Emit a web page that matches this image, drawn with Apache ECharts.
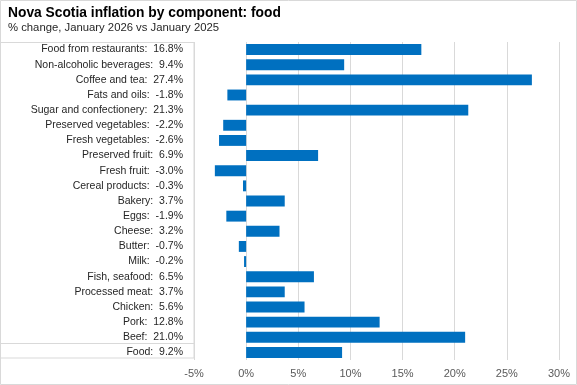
<!DOCTYPE html>
<html><head><meta charset="utf-8">
<script src="https://cdn.jsdelivr.net/npm/echarts@6/dist/echarts.min.js"></script>
<style>html,body{margin:0;padding:0;background:#fff}#c{width:577px;height:385px}</style>
</head><body><div id="c"></div>
<script>
const categories = ["Food from restaurants","Non-alcoholic beverages","Coffee and tea","Fats and oils","Sugar and confectionery","Preserved vegetables","Fresh vegetables","Preserved fruit","Fresh fruit","Cereal products","Bakery","Eggs","Cheese","Butter","Milk","Fish, seafood","Processed meat","Chicken","Pork","Beef","Food"];
const values = [16.8,9.4,27.4,-1.8,21.3,-2.2,-2.6,6.9,-3.0,-0.3,3.7,-1.9,3.2,-0.7,-0.2,6.5,3.7,5.6,12.8,21.0,9.2];
const xTicks = {min:-5, max:30, interval:5};
const title = "Nova Scotia inflation by component: food";
const subtitle = "% change, January 2026 vs January 2025";
</script>
<script>
const chart = echarts.init(document.getElementById('c'), null, {renderer:'canvas'});
const labels = categories.map((c,i)=> c + ':  ' + values[i].toFixed(1) + '%');
const F = 'Liberation Sans, Arial, sans-serif';
chart.setOption({
  animation:false,
  textStyle:{fontFamily:F},
  title:{text:title, subtext:subtitle, left:3, top:1, itemGap:2,
    textStyle:{fontSize:13.8, fontWeight:'bold', color:'#000', fontFamily:F},
    subtextStyle:{fontSize:11.3, color:'#262626', fontFamily:F}},
  grid:{left:194, right:18, top:42, bottom:25},
  xAxis:{type:'value', min:xTicks.min, max:xTicks.max, interval:xTicks.interval,
    axisLabel:{formatter:'{value}%', color:'#595959', fontSize:11, margin:8},
    axisLine:{show:false}, axisTick:{show:false},
    splitLine:{lineStyle:{color:'#d9d9d9', width:1}}},
  yAxis:{type:'category', data:labels, inverse:true,
    axisLine:{show:false}, axisTick:{show:false},
    axisLabel:{color:'#262626', fontSize:10.5, margin:11}},
  series:[{type:'bar', data:values, barWidth:'72%', itemStyle:{color:'#0070c0'}}],
  graphic:[
    {type:'rect', shape:{x:0.5,y:0.5,width:576,height:384}, style:{fill:null, stroke:'#d9d9d9', lineWidth:1}, silent:true},
    {type:'rect', shape:{x:-1,y:42.5,width:195,height:315.5}, style:{fill:null, stroke:'#d9d9d9', lineWidth:1}, silent:true, z:10},
    {type:'line', shape:{x1:0,y1:343.5,x2:194,y2:343.5}, style:{stroke:'#d9d9d9', lineWidth:1}, silent:true, z:10}
  ]
});
</script>
</body></html>
